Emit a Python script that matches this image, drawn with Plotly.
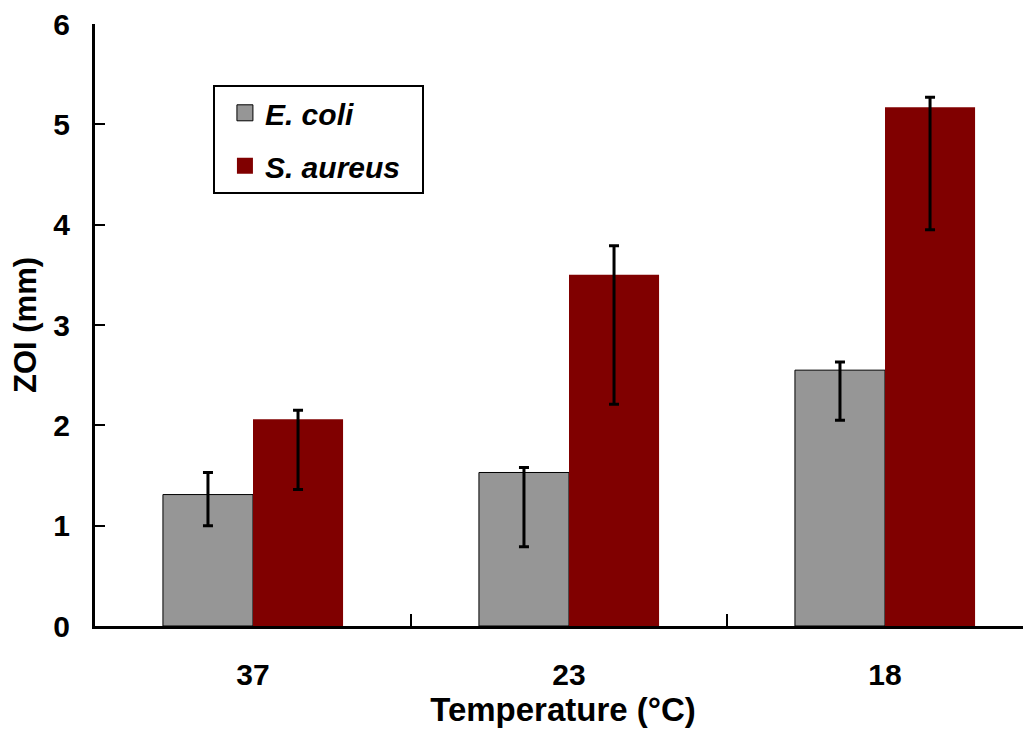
import plotly.graph_objects as go

categories = ["37", "23", "18"]
ecoli = [1.31, 1.53, 2.55]
ecoli_err_plus = [0.22, 0.05, 0.08]
ecoli_err_minus = [0.31, 0.74, 0.50]
saureus = [2.06, 3.50, 5.17]
saureus_err_plus = [0.09, 0.29, 0.10]
saureus_err_minus = [0.70, 1.29, 1.22]
y_ticks = [0, 1, 2, 3, 4, 5, 6]

GRAY = "#969696"
RED = "#800000"
FONT = "Liberation Sans, Arial, sans-serif"

fig = go.Figure()
fig.add_trace(go.Bar(
    x=categories, y=ecoli, name="E. coli", showlegend=False,
    marker=dict(color=GRAY, line=dict(color="black", width=1)),
    error_y=dict(type="data", symmetric=False, array=ecoli_err_plus,
                 arrayminus=ecoli_err_minus, color="black", thickness=3, width=5),
))
fig.add_trace(go.Bar(
    x=categories, y=saureus, name="S. aureus", showlegend=False,
    marker=dict(color=RED, line=dict(width=0)),
    error_y=dict(type="data", symmetric=False, array=saureus_err_plus,
                 arrayminus=saureus_err_minus, color="black", thickness=3, width=5),
))
# legend entries
fig.add_trace(go.Scatter(
    x=[None], y=[None], mode="markers", name="<b><i>E. coli</i></b>",
    legendgroup="a",
    marker=dict(symbol="square", size=20, color=GRAY, line=dict(color="black", width=1)),
))
fig.add_trace(go.Scatter(
    x=[None], y=[None], mode="markers", name="<b><i>S. aureus</i></b>&nbsp;&nbsp;",
    legendgroup="b",
    marker=dict(symbol="square", size=20, color=RED, line=dict(width=0)),
))

fig.update_layout(
    width=1023, height=730,
    margin=dict(l=87, r=0, t=16, b=112),
    paper_bgcolor="white", plot_bgcolor="white",
    font=dict(family=FONT, color="black", size=30),
    barmode="group", bargap=0.43, bargroupgap=0,
    legend=dict(
        x=0.126, y=0.899, xanchor="left", yanchor="top",
        bordercolor="black", borderwidth=2, bgcolor="white",
        font=dict(family=FONT, size=30, color="black"),
        tracegroupgap=11, traceorder="grouped",
        itemwidth=30, indentation=10,
    ),
)
fig.update_xaxes(
    type="category", range=[-0.5, 2.462],
    showline=True, linecolor="black", linewidth=3,
    ticks="inside", tickson="boundaries", ticklen=12, tickwidth=2, tickcolor="black",
    tickfont=dict(family=FONT, size=30, color="black"),
    tickprefix="<b>", ticksuffix="</b>",
    ticklabelstandoff=20,
    showgrid=False, zeroline=False,
    title=dict(text="<b>Temperature (°C)</b>", font=dict(family=FONT, size=33, color="black"), standoff=8),
)
fig.update_yaxes(
    range=[0, 6], tickvals=y_ticks, ticktext=[f"<b>{v}</b>" for v in y_ticks],
    showline=True, linecolor="black", linewidth=3,
    ticks="inside", ticklen=10, tickwidth=2, tickcolor="black",
    tickfont=dict(family=FONT, size=30, color="black"),
    ticklabelstandoff=16, ticklabeloverflow="allow",
    showgrid=False, zeroline=False,
    title=dict(text="<b>ZOI (mm)</b>", font=dict(family=FONT, size=31, color="black"), standoff=8),
)

fig.write_html("out.html")
